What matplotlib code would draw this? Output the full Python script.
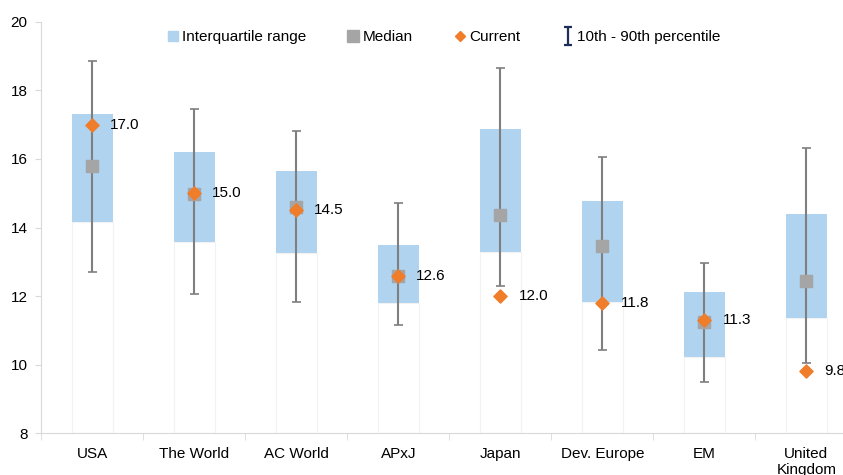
import matplotlib
matplotlib.use("Agg")
import matplotlib.pyplot as plt
from matplotlib.lines import Line2D
from matplotlib.path import Path
import numpy as np

plt.rcParams['font.family'] = ['Liberation Sans', 'DejaVu Sans']

categories = ["USA", "The World", "AC World", "APxJ", "Japan", "Dev. Europe", "EM", "United\nKingdom"]
q1 = [14.16, 13.58, 13.26, 11.80, 13.28, 11.82, 10.22, 11.36]
q3 = [17.31, 16.20, 15.65, 13.49, 16.88, 14.77, 12.12, 14.39]
median = [15.80, 14.98, 14.60, 12.60, 14.36, 13.46, 11.25, 12.44]
current = [17.0, 15.0, 14.5, 12.6, 12.0, 11.8, 11.3, 9.8]
p10 = [12.70, 12.06, 11.82, 11.15, 12.29, 10.42, 9.49, 10.04]
p90 = [18.86, 17.46, 16.82, 14.72, 18.66, 16.06, 12.96, 16.32]
yticks = [8, 10, 12, 14, 16, 18, 20]

fig = plt.figure(figsize=(8.43, 4.75), dpi=100)
ax = fig.add_axes([0.049, 0.088, 0.968, 0.866])

x = np.arange(len(categories))
w = 0.4
base = 8
# invisible lower bars with faint edges
ax.bar(x, np.array(q1) - base, bottom=base, width=w, color='none', edgecolor='#f2f2f2', linewidth=0.8, zorder=1)
ax.bar(x, np.array(q3) - np.array(q1), bottom=q1, width=w, color='#b0d3ef', edgecolor='none', zorder=2)
# whiskers
ax.vlines(x, p10, p90, color='#7f7f7f', linewidth=1.5, zorder=3)
ax.hlines(p10, x - 0.045, x + 0.045, color='#7f7f7f', linewidth=1.2, zorder=3)
ax.hlines(p90, x - 0.045, x + 0.045, color='#7f7f7f', linewidth=1.2, zorder=3)
ax.scatter(x, median, marker='s', s=64, color='#a5a5a5', zorder=4)
ax.scatter(x, current, marker='D', s=45, color='#f07d2a', zorder=5)
for xi, c in zip(x, current):
    ax.annotate(f"{c:.1f}", (xi, c), xytext=(13, 0), textcoords='offset points',
                va='center', ha='left', fontsize=11, color='#000000', zorder=6)

ax.set_xlim(-0.5, len(categories) - 0.5)
ax.set_ylim(8, 20)
ax.set_yticks(yticks)
ax.set_xticks(x)
ax.set_xticklabels(categories, fontsize=11)
ax.set_xticks(np.arange(len(categories) + 1) - 0.5, minor=True)
ax.tick_params(axis='x', which='major', length=0, pad=10)
ax.tick_params(axis='x', which='minor', length=5, color='#d9d9d9')
ax.tick_params(axis='y', length=4, color='#d9d9d9', labelsize=11, pad=6)
for s in ['top', 'right']:
    ax.spines[s].set_visible(False)
ax.spines['left'].set_color('#d9d9d9')
ax.spines['bottom'].set_color('#d9d9d9')

ibeam = Path([(-0.45, 1), (0.45, 1), (0, 1), (0, -1), (-0.45, -1), (0.45, -1)],
             [Path.MOVETO, Path.LINETO, Path.MOVETO, Path.LINETO, Path.MOVETO, Path.LINETO])
handles = [
    Line2D([], [], marker='s', linestyle='none', markersize=7, color='#b0d3ef'),
    Line2D([], [], marker='s', linestyle='none', markersize=8, color='#a5a5a5'),
    Line2D([], [], marker='D', linestyle='none', markersize=5, color='#f07d2a'),
    Line2D([], [], marker=ibeam, linestyle='none', markersize=13, markeredgewidth=1.6,
           color='#1f2d5a', markerfacecolor='none'),
]
labels = ["Interquartile range", "Median", "Current", "10th - 90th percentile"]
fig.legend(handles, labels, loc='center', bbox_to_anchor=(0.525, 0.922), ncol=4,
           frameon=False, fontsize=11, handletextpad=0.1, columnspacing=2.6, handlelength=1.0)

fig.savefig("out.png", dpi=100)
